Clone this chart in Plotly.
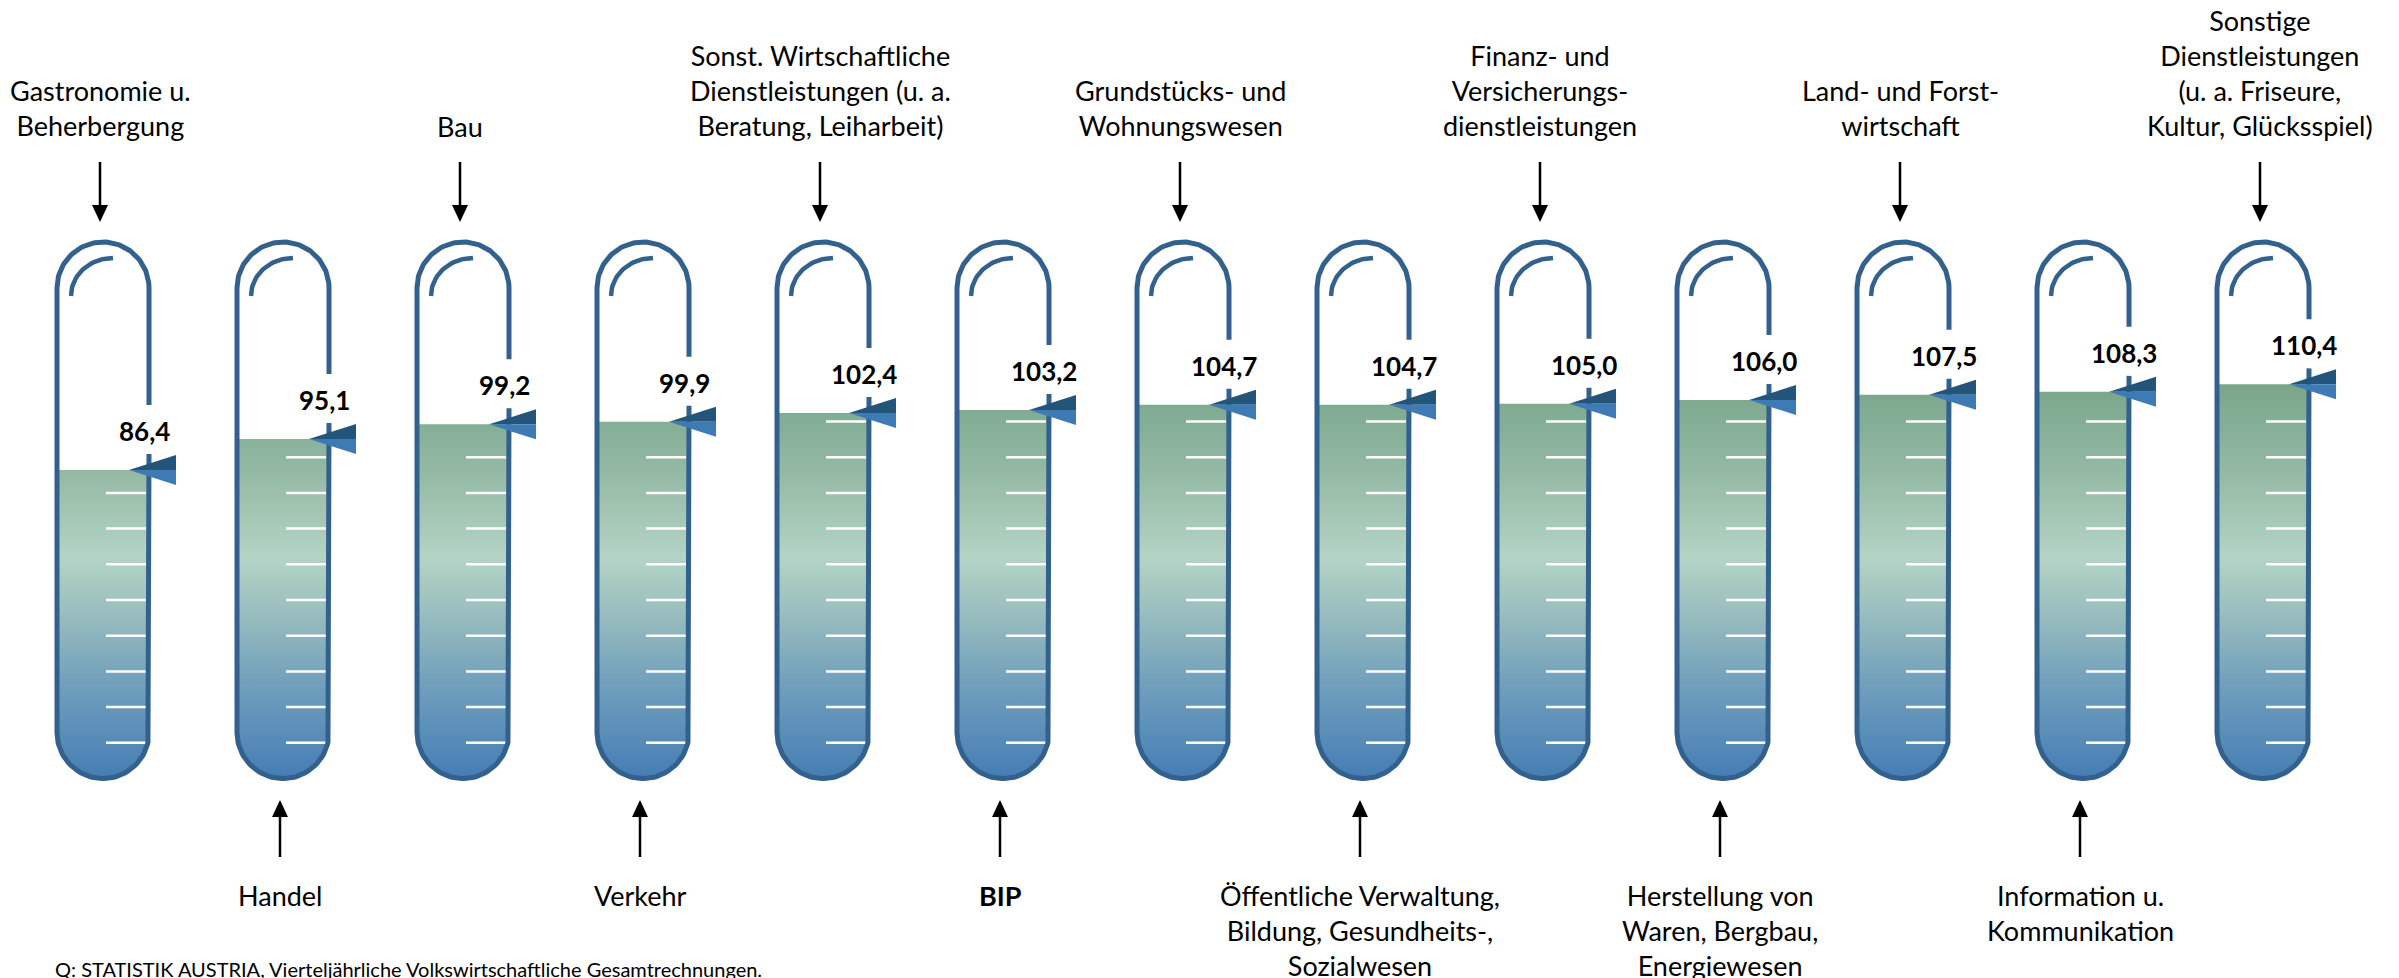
import numpy as np
import plotly.graph_objects as go

# ---------------- data ----------------
categories = [
    "Gastronomie u.<br>Beherbergung",
    "Handel",
    "Bau",
    "Verkehr",
    "Sonst. Wirtschaftliche<br>Dienstleistungen (u. a.<br>Beratung, Leiharbeit)",
    "<b>BIP</b>",
    "Grundstücks- und<br>Wohnungswesen",
    "Öffentliche Verwaltung,<br>Bildung, Gesundheits-,<br>Sozialwesen",
    "Finanz- und<br>Versicherungs-<br>dienstleistungen",
    "Herstellung von<br>Waren, Bergbau,<br>Energiewesen",
    "Land- und Forst-<br>wirtschaft",
    "Information u.<br>Kommunikation",
    "Sonstige<br>Dienstleistungen<br>(u. a. Friseure,<br>Kultur, Glücksspiel)",
]
values = [86.4, 95.1, 99.2, 99.9, 102.4, 103.2, 104.7, 104.7, 105.0, 106.0, 107.5, 108.3, 110.4]
label_side = ["top", "bottom"] * 6 + ["top"]
scale_ticks = [10, 20, 30, 40, 50, 60, 70, 80, 90, 100]
source_note = "Q: STATISTIK AUSTRIA, Vierteljährliche Volkswirtschaftliche Gesamtrechnungen."

# ---------------- geometry (pixel scale helpers) ----------------
W, H = 2399, 978
X0, DX = 103.0, 180.0      # px of first tube centre, px per category
Y0, KY = 778.5, 3.57       # px of value 0, px per value unit

def ux(px):
    return px / DX

def uy(px):
    return px / KY

def vy(py):  # absolute pixel row -> axis value
    return (Y0 - py) / KY

HW = ux(46)
RV = uy(46)
VC_BOT = RV
VC_TOP = vy(288)

OUTLINE = "#33618d"
TRI_DARK = "#23557a"
TRI_LIGHT = "#3e7bb5"
FONT = "Lato"

fig = go.Figure()

# gradient definition (absolute on y axis)
GSTOP = 112.0
grad_pts = [(0, "#447cb4"), (5.2, "#4e84b6"), (24.0, "#6d9cbc"), (38.0, "#88b1bd"),
            (50.0, "#a0c3c0"), (62.0, "#b4d4c5"), (70.5, "#a8cab8"), (86.4, "#93b9a4"),
            (110.5, "#79a58a"), (112.0, "#78a489")]
colorscale = [[p / GSTOP, c] for p, c in grad_pts]

t_bot = np.linspace(-np.pi, 0, 60)          # left -> bottom -> right
for i, v in enumerate(values):
    cx = i
    xs = [cx - HW, cx - HW] + list(cx + HW * np.cos(t_bot)) + [cx + HW, cx + HW]
    ys = [v, VC_BOT] + list(VC_BOT + RV * np.sin(t_bot)) + [VC_BOT, v]
    fig.add_trace(go.Scatter(
        x=xs, y=ys, mode="lines", fill="toself", line=dict(width=0),
        fillgradient=dict(type="vertical", colorscale=colorscale, start=0, stop=GSTOP),
        hoverinfo="skip"))

# white scale ticks inside the filled part
tx, ty = [], []
for i, v in enumerate(values):
    for t in scale_ticks:
        if t < v - 1:
            tx += [i + ux(3), i + ux(43), None]
            ty += [t, t, None]
fig.add_trace(go.Scatter(x=tx, y=ty, mode="lines", line=dict(color="white", width=2.5),
                         hoverinfo="skip"))

# outlines with gap at value label
t_b2 = t_bot[::-1]                           # right -> bottom -> left
t_dome = np.linspace(np.pi, 0, 80)           # left -> top -> right
ox, oy, hx, hy = [], [], [], []
for i, v in enumerate(values):
    cx = i
    xs = [cx + HW, cx + HW] + list(cx + HW * np.cos(t_b2)) \
        + [cx - HW, cx - HW] + list(cx + HW * np.cos(t_dome)) + [cx + HW, cx + HW]
    ys = [v + uy(16), VC_BOT] + list(VC_BOT + RV * np.sin(t_b2)) \
        + [VC_BOT, VC_TOP] + list(VC_TOP + RV * np.sin(t_dome)) + [VC_TOP, v + uy(65)]
    ox += xs + [None]
    oy += ys + [None]
    ta = np.linspace(np.pi, np.pi / 2, 30)
    hx += list(cx + ux(10) + ux(42) * np.cos(ta)) + [None]
    hy += list(vy(296) + uy(38) * np.sin(ta)) + [None]
fig.add_trace(go.Scatter(x=ox, y=oy, mode="lines", line=dict(color=OUTLINE, width=5),
                         hoverinfo="skip"))
fig.add_trace(go.Scatter(x=hx, y=hy, mode="lines", line=dict(color=OUTLINE, width=4.5),
                         hoverinfo="skip"))

# two-tone pointer triangles
for i, v in enumerate(values):
    tip_x = i + ux(26)
    rx = i + ux(73)
    fig.add_trace(go.Scatter(x=[tip_x, rx, rx, tip_x], y=[v, v + uy(15), v, v],
                             mode="lines", fill="toself", fillcolor=TRI_DARK,
                             line=dict(width=0), hoverinfo="skip"))
    fig.add_trace(go.Scatter(x=[tip_x, rx, rx, tip_x], y=[v, v, v - uy(15), v],
                             mode="lines", fill="toself", fillcolor=TRI_LIGHT,
                             line=dict(width=0), hoverinfo="skip"))

# arrows
sx, sy = [], []
for i, side in enumerate(label_side):
    ax = i - ux(3)
    if side == "top":
        sx += [ax, ax, None]
        sy += [vy(162), vy(207), None]
        hxs = [ax - ux(8), ax + ux(8), ax, ax - ux(8)]
        hys = [vy(205), vy(205), vy(222), vy(205)]
    else:
        sx += [ax, ax, None]
        sy += [vy(815), vy(857), None]
        hxs = [ax - ux(8), ax + ux(8), ax, ax - ux(8)]
        hys = [vy(817), vy(817), vy(800), vy(817)]
    fig.add_trace(go.Scatter(x=hxs, y=hys, mode="lines", fill="toself", fillcolor="black",
                             line=dict(width=0), hoverinfo="skip"))
fig.add_trace(go.Scatter(x=sx, y=sy, mode="lines", line=dict(color="black", width=2.5),
                         hoverinfo="skip"))

annotations = []
LINE = 35.3
for i, (lab, side) in enumerate(zip(categories, label_side)):
    n = lab.count("<br>") + 1
    if side == "top":
        cy = 126 - (n - 1) * LINE / 2
    else:
        cy = 895 + (n - 1) * LINE / 2
    annotations.append(dict(x=i - ux(3), y=vy(cy), xref="x", yref="y", text=lab,
                            showarrow=False, xanchor="center", yanchor="middle",
                            font=dict(family=FONT, size=27, color="black")))

for i, v in enumerate(values):
    txt = f"{v:.1f}".replace(".", ",")
    annotations.append(dict(x=i + ux(41), y=v + uy(39), xref="x", yref="y",
                            text=f"<b>{txt}</b>", showarrow=False,
                            xanchor="center", yanchor="middle",
                            font=dict(family=FONT, size=26, color="black")))

annotations.append(dict(x=(53 - X0) / DX, y=vy(969), xref="x", yref="y", text=source_note,
                        showarrow=False, xanchor="left", yanchor="middle",
                        font=dict(family=FONT, size=20, color="black")))

fig.update_layout(
    width=W, height=H,
    margin=dict(l=0, r=0, t=0, b=0),
    paper_bgcolor="white", plot_bgcolor="white",
    showlegend=False,
    xaxis=dict(range=[(0 - X0) / DX, (W - X0) / DX], visible=False, fixedrange=True),
    yaxis=dict(range=[vy(H), vy(0)], visible=False, fixedrange=True),
    annotations=annotations,
)

fig.write_html("out.html",
               config={"displayModeBar": False},
               post_script="document.body.style.margin='0';document.body.style.overflow='hidden';")
